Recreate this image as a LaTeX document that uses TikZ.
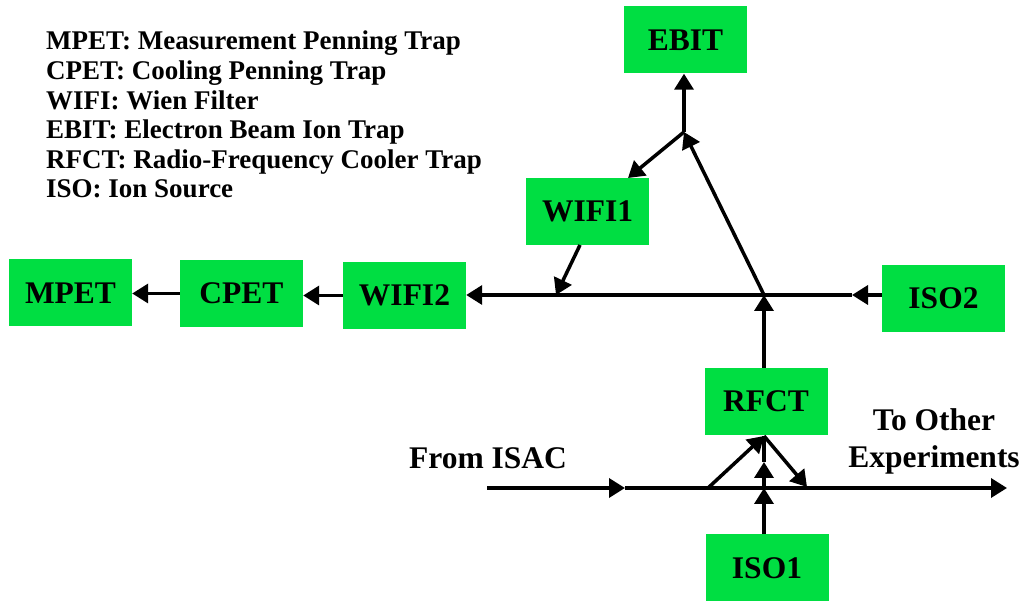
\documentclass[tikz,border=0pt]{standalone}
\usepackage{fontspec}
\setmainfont{Liberation Serif}
\usetikzlibrary{arrows.meta}
\definecolor{boxgreen}{RGB}{0,222,66}
\begin{document}
\begin{tikzpicture}[x=1pt,y=-1pt,
  box/.style={fill=boxgreen, minimum width=123pt, minimum height=67pt, inner sep=0pt, font=\fontsize{31.5}{37}\selectfont\bfseries},
  conn/.style={line width=3.5pt, -{Triangle[length=16pt,width=19pt]}},
  plainline/.style={line width=3.5pt},
  lbl/.style={font=\fontsize{31.5}{37}\selectfont\bfseries, inner sep=0pt},
  leg/.style={font=\fontsize{27}{30}\selectfont\bfseries, inner sep=0pt, anchor=base west}]
\useasboundingbox (0,0) rectangle (1029,601);
% legend
\node[leg] (leg1) at (46,50) {MPET: Measurement Penning Trap};
\node[leg] (leg2) at (46,79.6) {CPET: Cooling Penning Trap};
\node[leg] (leg3) at (46,109.2) {WIFI: Wien Filter};
\node[leg] (leg4) at (46,138.8) {EBIT: Electron Beam Ion Trap};
\node[leg] (leg5) at (46,168.4) {RFCT: Radio-Frequency Cooler Trap};
\node[leg] (leg6) at (46,198) {ISO: Ion Source};
% boxes
\node[box] (EBIT) at (685.5,40) {EBIT};
\node[box] (WIFI1) at (587.5,211.5) {WIFI1};
\node[box] (MPET) at (70.5,293) {MPET};
\node[box] (CPET) at (241.5,293.5) {CPET};
\node[box] (WIFI2) at (404.5,295.5) {WIFI2};
\node[box] (ISO2) at (943.5,298.5) {ISO2};
\node[box] (RFCT) at (766,401.5) {RFCT};
\node[box] (ISO1) at (767,568) {ISO1};
% labels
\node[lbl] (isac) at (488,458) {From ISAC};
\node[lbl, align=center] (other) at (934,441) {To Other\\Experiments};
% coordinates
\coordinate (J1) at (764,295);
\coordinate (J2) at (684,132);
\coordinate (m1) at (852,295);
\coordinate (w1a) at (628,178);
\coordinate (w1b) at (580,245);
\coordinate (w1c) at (556,295);
\coordinate (L0) at (487,488);
\coordinate (L1) at (625,488);
\coordinate (L2) at (1007,488);
\coordinate (D0) at (708,488);
\coordinate (R0) at (764,436);
\coordinate (D1) at (807,487);
\coordinate (V0) at (764,488);
\coordinate (V1) at (764,462);
% connectors
\draw[conn] (ISO2.west |- m1) -- (m1);
\draw[conn] (m1) -- (WIFI2.east |- m1);
\draw[conn] (J1 |- RFCT.north) -- (J1);
\draw[conn] (J1) -- (J2);
\draw[conn] (J2) -- (J2 |- EBIT.south);
\draw[conn] (J2) -- (w1a);
\draw[conn] (w1b) -- (w1c);
\draw[conn] (WIFI2.west) -- (WIFI2.west -| CPET.east);
\draw[conn] (CPET.west) -- (CPET.west -| MPET.east);
\draw[conn] (L0) -- (L1);
\draw[conn] (L1) -- (L2);
\draw[conn] (D0) -- (R0);
\draw[conn] (R0) -- (D1);
\draw[conn] (V0 |- ISO1.north) -- (V0);
\draw[conn] (V0) -- (V1);
\draw[plainline] (V1) -- (R0);
\end{tikzpicture}
\end{document}
